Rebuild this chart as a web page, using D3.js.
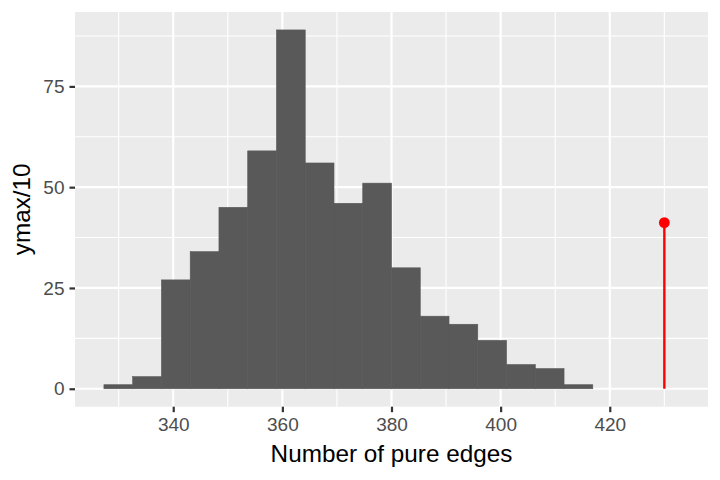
<!DOCTYPE html>
<html>
<head>
<meta charset="utf-8">
<script src="https://cdn.jsdelivr.net/npm/d3@7"></script>
<style>
  body { margin: 0; background: #fff; }
  svg { display: block; font-family: "Liberation Sans", Arial, sans-serif; }
</style>
</head>
<body>
<svg id="chart" width="720" height="480"></svg>
<script>
// ---- data ----
const binStart = 327.3;
const binWidth = 5.27;
const counts = [1, 3, 27, 34, 45, 59, 89, 56, 46, 51, 30, 18, 16, 12, 6, 5, 1];
const observedX = [430];
const observedY = [41.2];
const xTicks = [340, 360, 380, 400, 420];
const yTicks = [0, 25, 50, 75];
const xMinor = [330, 350, 370, 390, 410, 430];
const yMinor = [12.5, 37.5, 62.5, 87.5];
const xTitle = "Number of pure edges";
const yTitle = "ymax/10";

// ---- layout ----
const W = 720, H = 480;
const panel = { left: 75, top: 12, right: 708, bottom: 406.7 };

const svg = d3.select("#chart");
const x = d3.scaleLinear().domain([322, 438]).range([panel.left, panel.right]);
const y = d3.scaleLinear().domain([-4.45, 93.45]).range([panel.bottom, panel.top]);

const bins = counts.map((c, i) => ({ x0: binStart + i * binWidth, x1: binStart + (i + 1) * binWidth, c }));

// panel background
svg.append("rect")
  .attr("x", panel.left).attr("y", panel.top)
  .attr("width", panel.right - panel.left).attr("height", panel.bottom - panel.top)
  .attr("fill", "#EBEBEB");

const grid = svg.append("g");
// minor grid
grid.selectAll("line.xmin").data(xMinor).enter().append("line")
  .attr("x1", d => x(d)).attr("x2", d => x(d))
  .attr("y1", panel.top).attr("y2", panel.bottom)
  .attr("stroke", "#fff").attr("stroke-width", 1.1);
grid.selectAll("line.ymin").data(yMinor).enter().append("line")
  .attr("y1", d => y(d)).attr("y2", d => y(d))
  .attr("x1", panel.left).attr("x2", panel.right)
  .attr("stroke", "#fff").attr("stroke-width", 1.1);
// major grid
grid.selectAll("line.xmaj").data(xTicks).enter().append("line")
  .attr("x1", d => x(d)).attr("x2", d => x(d))
  .attr("y1", panel.top).attr("y2", panel.bottom)
  .attr("stroke", "#fff").attr("stroke-width", 2.2);
grid.selectAll("line.ymaj").data(yTicks).enter().append("line")
  .attr("y1", d => y(d)).attr("y2", d => y(d))
  .attr("x1", panel.left).attr("x2", panel.right)
  .attr("stroke", "#fff").attr("stroke-width", 2.2);

// bars
svg.append("g").selectAll("rect").data(bins).enter().append("rect")
  .attr("x", d => x(d.x0))
  .attr("width", d => x(d.x1) - x(d.x0))
  .attr("y", d => y(d.c))
  .attr("height", d => y(0) - y(d.c))
  .attr("fill", "#595959")
  .attr("stroke", "#595959").attr("stroke-width", 0.6);

// observed segment + point
const obs = observedX.map((v, i) => ({ x: v, y: observedY[i] }));
svg.append("g").selectAll("line").data(obs).enter().append("line")
  .attr("x1", d => x(d.x)).attr("x2", d => x(d.x))
  .attr("y1", y(0)).attr("y2", d => y(d.y))
  .attr("stroke", "#FF0000").attr("stroke-width", 2.4);
svg.append("g").selectAll("circle").data(obs).enter().append("circle")
  .attr("cx", d => x(d.x)).attr("cy", d => y(d.y)).attr("r", 5.4)
  .attr("fill", "#FF0000");

// axes
const xAxis = svg.append("g")
  .attr("transform", `translate(0,${panel.bottom})`)
  .call(d3.axisBottom(x).tickValues(xTicks).tickSize(5.5).tickPadding(5).tickFormat(d3.format("d")));
const yAxis = svg.append("g")
  .attr("transform", `translate(${panel.left},0)`)
  .call(d3.axisLeft(y).tickValues(yTicks).tickSize(5.5).tickPadding(5).tickFormat(d3.format("d")));
[xAxis, yAxis].forEach(a => {
  a.select(".domain").remove();
  a.selectAll(".tick line").attr("stroke", "#333333").attr("stroke-width", 2.2);
  a.selectAll(".tick text").attr("fill", "#4D4D4D")
    .style("font-family", '"Liberation Sans", Arial, sans-serif')
    .style("font-size", "19px");
});

// titles
svg.append("text")
  .attr("x", (panel.left + panel.right) / 2).attr("y", 462)
  .attr("text-anchor", "middle")
  .style("font-size", "24.3px").attr("fill", "#000")
  .text(xTitle);
svg.append("text")
  .attr("transform", `translate(30,${(panel.top + panel.bottom) / 2}) rotate(-90)`)
  .attr("text-anchor", "middle")
  .style("font-size", "24.3px").attr("fill", "#000")
  .text(yTitle);
</script>
</body>
</html>
